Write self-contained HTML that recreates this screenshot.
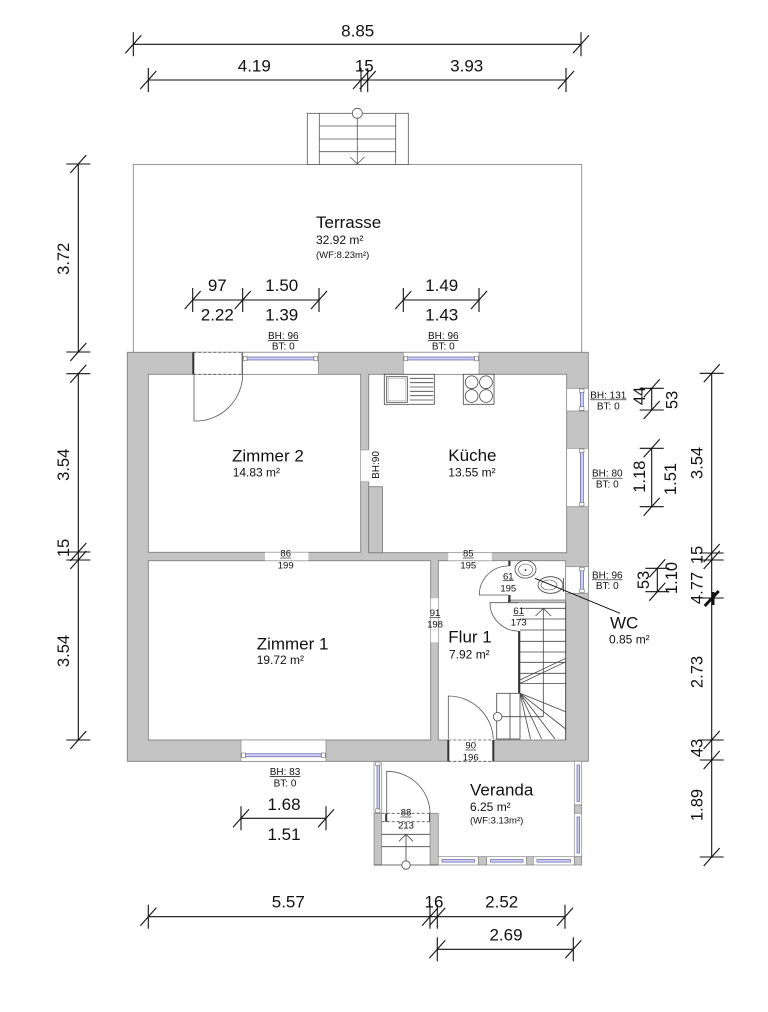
<!DOCTYPE html>
<html><head><meta charset="utf-8"><style>
html,body{margin:0;padding:0;background:#fff;}
svg{display:block;}
text{font-family:"Liberation Sans",Arial,sans-serif;fill:#111;}
</style></head><body>
<svg width="768" height="1012" viewBox="0 0 768 1012" xmlns="http://www.w3.org/2000/svg">
<rect x="0" y="0" width="768" height="1012" fill="#fff"/>

<!-- Terrace -->
<rect x="133.3" y="164.5" width="448.4" height="188" fill="#fff" stroke="#8a8a8a" stroke-width="0.9"/>
<!-- Terrace stair -->
<g stroke="#555" stroke-width="0.8" fill="none">
<rect x="307.3" y="113.3" width="101" height="51.2" fill="#fff"/>
<line x1="319.3" y1="113.3" x2="319.3" y2="164.5"/>
<line x1="395.7" y1="113.3" x2="395.7" y2="164.5"/>
<line x1="319.3" y1="126" x2="395.7" y2="126"/>
<line x1="319.3" y1="139" x2="395.7" y2="139"/>
<line x1="319.3" y1="151.7" x2="395.7" y2="151.7"/>
<line x1="357.3" y1="118.3" x2="357.3" y2="164"/>
<path d="M350.3,157 L357.3,164 L364.3,157"/>
<circle cx="357.3" cy="113.3" r="5" fill="#fff"/>
</g>

<!-- Main wall block -->
<rect x="127.3" y="352.3" width="461" height="409" fill="#c4c4c4" stroke="#808080" stroke-width="0.9"/>
<!-- Rooms -->
<g fill="#fff" stroke="#808080" stroke-width="0.9">
<rect x="148.3" y="374.3" width="212.4" height="178"/>
<rect x="368.7" y="374.3" width="198" height="178.4"/>
<rect x="148.3" y="560.7" width="282.4" height="179.3"/>
<rect x="438.3" y="560.7" width="127.4" height="179.3"/>
</g>
<rect x="368.7" y="486.7" width="13.8" height="66" fill="#c4c4c4" stroke="#808080" stroke-width="0.9"/>

<!-- Openings -->
<g fill="#fff" stroke="none">
<rect x="193.3" y="352.3" width="49.4" height="22"/>
<rect x="360.2" y="450" width="9" height="31.7"/>
<rect x="265" y="552" width="43.3" height="9"/>
<rect x="448.3" y="552.4" width="43.4" height="8.6"/>
<rect x="430.2" y="598.3" width="8.6" height="44"/>
<rect x="448.3" y="739.6" width="45" height="22"/>
</g>
<g stroke="#999" stroke-width="0.7">
<line x1="265" y1="552.3" x2="308.3" y2="552.3"/><line x1="265" y1="560.7" x2="308.3" y2="560.7"/>
<line x1="448.3" y1="552.7" x2="491.7" y2="552.7"/><line x1="448.3" y1="560.7" x2="491.7" y2="560.7"/>
<line x1="430.7" y1="598.3" x2="430.7" y2="642.3"/><line x1="438.3" y1="598.3" x2="438.3" y2="642.3"/>
<line x1="360.7" y1="450" x2="360.7" y2="481.7"/>
<line x1="360.7" y1="450" x2="368.7" y2="450"/><line x1="360.7" y1="481.7" x2="368.7" y2="481.7"/>
</g>
<!-- dashed doors -->
<g stroke="#555" stroke-width="0.8" stroke-dasharray="3,2">
<line x1="193.3" y1="352.3" x2="242.7" y2="352.3"/><line x1="193.3" y1="374.3" x2="242.7" y2="374.3"/>
<line x1="448.3" y1="740" x2="493.3" y2="740"/><line x1="448.3" y1="761.3" x2="493.3" y2="761.3"/>
<line x1="381.7" y1="813.3" x2="430" y2="813.3"/><line x1="381.7" y1="821.7" x2="430" y2="821.7"/>
</g>
<g stroke="#333" stroke-width="2">
<line x1="193.3" y1="352.3" x2="193.3" y2="374.3"/><line x1="242.7" y1="352.3" x2="242.7" y2="374.3"/>
<line x1="448.3" y1="740" x2="448.3" y2="761.3"/><line x1="493.3" y1="740" x2="493.3" y2="761.3"/>
<line x1="386.2" y1="813.3" x2="386.2" y2="821.7"/><line x1="430" y1="813.3" x2="430" y2="821.7"/>
</g>

<!-- Windows (horizontal) -->
<g>
<rect x="242.7" y="352.3" width="75.6" height="22" fill="#fff" stroke="#888" stroke-width="0.7"/>
<rect x="246.5" y="357" width="68" height="3" fill="#cfd0f2" stroke="#4a4aa0" stroke-width="0.6"/>
<rect x="243.5" y="356.3" width="3.5" height="4.5" fill="#fff" stroke="#555" stroke-width="0.5"/>
<rect x="314" y="356.3" width="3.5" height="4.5" fill="#fff" stroke="#555" stroke-width="0.5"/>

<rect x="403.3" y="352.3" width="75.7" height="22" fill="#fff" stroke="#888" stroke-width="0.7"/>
<rect x="407" y="357" width="68" height="3" fill="#cfd0f2" stroke="#4a4aa0" stroke-width="0.6"/>
<rect x="404" y="356.3" width="3.5" height="4.5" fill="#fff" stroke="#555" stroke-width="0.5"/>
<rect x="474.7" y="356.3" width="3.5" height="4.5" fill="#fff" stroke="#555" stroke-width="0.5"/>

<rect x="241" y="740" width="85" height="21.3" fill="#fff" stroke="#888" stroke-width="0.7"/>
<rect x="245" y="753.8" width="77" height="3" fill="#cfd0f2" stroke="#4a4aa0" stroke-width="0.6"/>
<rect x="241.8" y="753" width="3.5" height="4.5" fill="#fff" stroke="#555" stroke-width="0.5"/>
<rect x="321.7" y="753" width="3.5" height="4.5" fill="#fff" stroke="#555" stroke-width="0.5"/>
</g>
<!-- Windows (vertical, right wall) -->
<g>
<rect x="566.7" y="388.3" width="21.6" height="22.7" fill="#fff" stroke="#888" stroke-width="0.7"/>
<rect x="580.3" y="392" width="3" height="15.5" fill="#cfd0f2" stroke="#4a4aa0" stroke-width="0.6"/>
<rect x="579.5" y="389" width="4.5" height="3.5" fill="#fff" stroke="#555" stroke-width="0.5"/>
<rect x="579.5" y="406.8" width="4.5" height="3.5" fill="#fff" stroke="#555" stroke-width="0.5"/>

<rect x="566.7" y="448.3" width="21.6" height="58.4" fill="#fff" stroke="#888" stroke-width="0.7"/>
<rect x="580.3" y="452" width="3" height="51" fill="#cfd0f2" stroke="#4a4aa0" stroke-width="0.6"/>
<rect x="579.5" y="449" width="4.5" height="3.5" fill="#fff" stroke="#555" stroke-width="0.5"/>
<rect x="579.5" y="502.5" width="4.5" height="3.5" fill="#fff" stroke="#555" stroke-width="0.5"/>

<rect x="565.7" y="566.7" width="22.6" height="26.6" fill="#fff" stroke="#888" stroke-width="0.7"/>
<rect x="580.5" y="570.3" width="3" height="19.5" fill="#cfd0f2" stroke="#4a4aa0" stroke-width="0.6"/>
<rect x="579.7" y="567.3" width="4.5" height="3.5" fill="#fff" stroke="#555" stroke-width="0.5"/>
<rect x="579.7" y="589.2" width="4.5" height="3.5" fill="#fff" stroke="#555" stroke-width="0.5"/>
</g>

<!-- Kitchen fixtures -->
<g stroke="#444" stroke-width="0.8" fill="#fff">
<rect x="384.3" y="374.3" width="50" height="30"/>
<rect x="386.7" y="376.7" width="20.6" height="25.6"/>
<rect x="388.2" y="378.2" width="17.6" height="22.6" fill="none" stroke="#999" stroke-width="0.5"/>
<rect x="463.3" y="374.3" width="30.7" height="30"/>
<circle cx="471.6" cy="382.3" r="6.4"/><circle cx="486" cy="382.3" r="6.4"/>
<circle cx="471.6" cy="396" r="6.4"/><circle cx="486" cy="396" r="6.4"/>
</g>
<g stroke="#444" stroke-width="0.8">
<line x1="410" y1="378.3" x2="433.3" y2="378.3"/><line x1="410" y1="382.7" x2="433.3" y2="382.7"/>
<line x1="410" y1="387" x2="433.3" y2="387"/><line x1="410" y1="391.3" x2="433.3" y2="391.3"/>
<line x1="410" y1="395.7" x2="433.3" y2="395.7"/><line x1="410" y1="400" x2="433.3" y2="400"/>
</g>

<!-- WC walls -->
<rect x="508.3" y="600" width="57.4" height="2.8" fill="#c4c4c4" stroke="#666" stroke-width="0.6"/>
<g stroke="#333" stroke-width="2.2">
<line x1="509.4" y1="560.7" x2="509.4" y2="566"/>
<line x1="509.4" y1="595" x2="509.4" y2="602"/>
<line x1="519.2" y1="631" x2="519.2" y2="693.3"/>
</g>
<!-- WC fixtures -->
<g stroke="#444" stroke-width="0.8" fill="#fff">
<ellipse cx="525.5" cy="569.3" rx="10.5" ry="8.8"/>
<ellipse cx="525.5" cy="569.8" rx="7" ry="5.8" stroke-width="0.6"/>
<ellipse cx="550.5" cy="585" rx="12.5" ry="8.3"/>
<ellipse cx="549" cy="585" rx="8" ry="5" stroke-width="0.6"/>
<line x1="563.5" y1="578" x2="563.5" y2="592"/>
</g>
<circle cx="525.5" cy="570" r="1" fill="#444"/>

<!-- Door arcs -->
<g stroke="#555" stroke-width="0.8" fill="none">
<path d="M194,374.3 L194,421 A47,47 0 0 0 242.7,374.3"/>
<path d="M508.3,595 L479.3,595 A29,29 0 0 1 508.3,566"/>
<path d="M518.3,602.7 L490,602.7 A28.3,28.3 0 0 0 518.3,631"/>
<path d="M448.3,739 L448.3,696 A45,45 0 0 1 493.3,739"/>
<path d="M386.7,813.3 L386.7,771.3 A43.3,42 0 0 1 430,813.3"/>
</g>

<!-- Interior stair -->
<g stroke="#444" stroke-width="0.8" fill="none">
<line x1="565.7" y1="602.7" x2="565.7" y2="740"/>
<line x1="520" y1="608.3" x2="565.7" y2="608.3"/>
<line x1="520" y1="619" x2="565.7" y2="619"/>
<line x1="520" y1="630" x2="565.7" y2="630"/>
<line x1="520" y1="641.3" x2="565.7" y2="641.3"/>
<line x1="520" y1="652" x2="565.7" y2="652"/>
<line x1="520" y1="662.3" x2="565.7" y2="662.3"/>
<line x1="520" y1="673.3" x2="565.7" y2="673.3"/>
<line x1="520" y1="683.5" x2="565.7" y2="683.5"/>
<line x1="520" y1="680" x2="565.7" y2="658.3"/>
<line x1="520" y1="683.5" x2="565.7" y2="661.8"/>
<line x1="543.3" y1="608.3" x2="543.3" y2="716.7"/>
<path d="M535.5,616 L543.3,608.3 L551.1,616"/>
<rect x="496.7" y="693.3" width="23.3" height="45.7" fill="#fff"/>
<line x1="510" y1="693.3" x2="510" y2="739"/>
<line x1="501.7" y1="716.7" x2="543.3" y2="716.7"/>
<line x1="520" y1="693.3" x2="530.5" y2="739"/>
<line x1="520" y1="693.3" x2="541.7" y2="739"/>
<line x1="520" y1="693.3" x2="555" y2="739"/>
<line x1="520" y1="693.3" x2="565.7" y2="729"/>
<line x1="520" y1="693.3" x2="565.7" y2="711.7"/>
<circle cx="497.6" cy="716.7" r="4.3" fill="#fff"/>
</g>

<!-- Veranda -->
<g>
<rect x="374" y="761.3" width="7.7" height="52" fill="#fff" stroke="#888" stroke-width="0.7"/>
<rect x="377" y="765" width="2.6" height="44.5" fill="#cfd0f2" stroke="#4a4aa0" stroke-width="0.6"/>
<rect x="375.5" y="762" width="4.5" height="3.5" fill="#fff" stroke="#555" stroke-width="0.5"/>
<rect x="375.5" y="809" width="4.5" height="3.5" fill="#fff" stroke="#555" stroke-width="0.5"/>
<rect x="374" y="813.3" width="7.7" height="51.7" fill="#c4c4c4" stroke="#808080" stroke-width="0.7"/>
<rect x="430" y="813.3" width="8.3" height="51.7" fill="#c4c4c4" stroke="#808080" stroke-width="0.7"/>

<rect x="574.3" y="761.3" width="7.4" height="43.7" fill="#fff" stroke="#888" stroke-width="0.7"/>
<rect x="577" y="765" width="2.6" height="36.5" fill="#cfd0f2" stroke="#4a4aa0" stroke-width="0.6"/>
<rect x="574.3" y="805" width="7.4" height="8.3" fill="#c4c4c4" stroke="#808080" stroke-width="0.7"/>
<rect x="574.3" y="813.3" width="7.4" height="43.4" fill="#fff" stroke="#888" stroke-width="0.7"/>
<rect x="577" y="817" width="2.6" height="36" fill="#cfd0f2" stroke="#4a4aa0" stroke-width="0.6"/>
<rect x="574.3" y="856.7" width="7.4" height="8.3" fill="#c4c4c4" stroke="#808080" stroke-width="0.7"/>

<rect x="438.3" y="856.7" width="40" height="8.3" fill="#fff" stroke="#888" stroke-width="0.7"/>
<rect x="442" y="859.5" width="32.5" height="2.6" fill="#cfd0f2" stroke="#4a4aa0" stroke-width="0.6"/>
<rect x="478.3" y="856.7" width="8.4" height="8.3" fill="#c4c4c4" stroke="#808080" stroke-width="0.7"/>
<rect x="486.7" y="856.7" width="40" height="8.3" fill="#fff" stroke="#888" stroke-width="0.7"/>
<rect x="490.5" y="859.5" width="32.5" height="2.6" fill="#cfd0f2" stroke="#4a4aa0" stroke-width="0.6"/>
<rect x="526.7" y="856.7" width="6.6" height="8.3" fill="#c4c4c4" stroke="#808080" stroke-width="0.7"/>
<rect x="533.3" y="856.7" width="41" height="8.3" fill="#fff" stroke="#888" stroke-width="0.7"/>
<rect x="537" y="859.5" width="33.5" height="2.6" fill="#cfd0f2" stroke="#4a4aa0" stroke-width="0.6"/>
</g>
<g stroke="#444" stroke-width="0.8" fill="none">
<line x1="374" y1="865" x2="438.3" y2="865"/>
<line x1="381.7" y1="834.3" x2="430" y2="834.3"/>
<line x1="381.7" y1="846.7" x2="430" y2="846.7"/>
<line x1="406" y1="834.3" x2="406" y2="861"/>
<path d="M399,841.3 L406,834.3 L413,841.3"/>
<circle cx="406" cy="865" r="4.2" fill="#fff"/>
</g>

<!-- WC leader -->
<line x1="535" y1="578.3" x2="620" y2="613.3" stroke="#111" stroke-width="1"/>

<!-- Dimension lines -->
<g stroke="#111" stroke-width="1.1" fill="none">
<line x1="133.3" y1="44.3" x2="581" y2="44.3"/>
<path d="M133.3,32.3V56.3M125.3,53.3L141.3,35.3 M581,32.3V56.3M573,53.3L589,35.3"/>
<line x1="148.3" y1="80" x2="566" y2="80"/>
<path d="M148.3,68V92M140.3,89L156.3,71 M361,68V92M353,89L369,71 M367.7,68V92M359.7,89L375.7,71 M566,68V92M558,89L574,71"/>
<line x1="192.7" y1="300" x2="319" y2="300"/>
<path d="M192.7,288V312M184.7,309L200.7,291 M242.7,288V312M234.7,309L250.7,291 M319,288V312M311,309L327,291"/>
<line x1="403.3" y1="300" x2="479" y2="300"/>
<path d="M403.3,288V312M395.3,309L411.3,291 M479,288V312M471,309L487,291"/>
<line x1="241" y1="818.3" x2="326" y2="818.3"/>
<path d="M241,806.3V830.3M233,827.3L249,809.3 M326,806.3V830.3M318,827.3L334,809.3"/>
<line x1="148.3" y1="916.7" x2="565" y2="916.7"/>
<path d="M148.3,904.7V928.7M140.3,925.7L156.3,907.7 M430,904.7V928.7M422,925.7L438,907.7 M437.3,904.7V928.7M429.3,925.7L445.3,907.7 M565,904.7V928.7M557,925.7L573,907.7"/>
<line x1="437.3" y1="949.3" x2="573.3" y2="949.3"/>
<path d="M437.3,937.3V961.3M429.3,958.3L445.3,940.3 M573.3,937.3V961.3M565.3,958.3L581.3,940.3"/>

<line x1="78.3" y1="164" x2="78.3" y2="352"/>
<path d="M66.3,164H90.3M70.3,173L86.3,155 M66.3,352H90.3M70.3,361L86.3,343"/>
<line x1="78.3" y1="373.7" x2="78.3" y2="740"/>
<path d="M66.3,373.7H90.3M70.3,382.7L86.3,364.7 M66.3,552H90.3M70.3,561L86.3,543 M66.3,560H90.3M70.3,569L86.3,551 M66.3,740H90.3M70.3,749L86.3,731"/>

<line x1="711.7" y1="373.3" x2="711.7" y2="857"/>
<path d="M699.7,373.3H723.7M703.7,382.3L719.7,364.3 M699.7,553H723.7M703.7,562L719.7,544 M699.7,560H723.7M703.7,569L719.7,551 M699.7,740H723.7M703.7,749L719.7,731 M699.7,760H723.7M703.7,769L719.7,751 M699.7,857H723.7M703.7,866L719.7,848"/>
<path d="M704.7,606L718.7,591 M713,592V605" stroke-width="3"/>
<path d="M699.7,598H723.7"/>

<line x1="651.7" y1="388.3" x2="651.7" y2="410"/>
<path d="M639.7,388.3H663.7M643.7,397.3L659.7,379.3 M639.7,410H663.7M643.7,419L659.7,401"/>
<line x1="651.7" y1="448.3" x2="651.7" y2="506.7"/>
<path d="M639.7,448.3H663.7M643.7,457.3L659.7,439.3 M639.7,506.7H663.7M643.7,515.7L659.7,497.7"/>
<line x1="657.3" y1="568.3" x2="657.3" y2="591.7"/>
<path d="M645.3,568.3H669.3M649.3,577.3L665.3,559.3 M645.3,591.7H669.3M649.3,600.7L665.3,582.7"/>
</g>

<!-- Dimension labels -->
<g font-size="17" text-anchor="middle">
<text x="357.7" y="36.7">8.85</text>
<text x="254.3" y="71.7">4.19</text>
<text x="364.3" y="71.7">15</text>
<text x="466.7" y="71.7">3.93</text>
<text x="217.3" y="291">97</text>
<text x="281.7" y="291">1.50</text>
<text x="217.3" y="320.7">2.22</text>
<text x="281.7" y="320.7">1.39</text>
<text x="441.7" y="291">1.49</text>
<text x="441.7" y="320.7">1.43</text>
<text x="284" y="810">1.68</text>
<text x="284" y="840">1.51</text>
<text x="288.3" y="907.7">5.57</text>
<text x="434" y="907.7">16</text>
<text x="501.7" y="907.7">2.52</text>
<text x="506" y="940.7">2.69</text>
</g>
<g font-size="16.5" text-anchor="middle" dominant-baseline="central">
<text transform="translate(64,258.8) rotate(-90)">3.72</text>
<text transform="translate(64,464.8) rotate(-90)">3.54</text>
<text transform="translate(64,548) rotate(-90)">15</text>
<text transform="translate(64,651) rotate(-90)">3.54</text>
<text transform="translate(697.5,463) rotate(-90)">3.54</text>
<text transform="translate(697.5,555) rotate(-90)">15</text>
<text transform="translate(697.5,588) rotate(-90)">4.77</text>
<text transform="translate(697.5,672) rotate(-90)">2.73</text>
<text transform="translate(697.5,748) rotate(-90)">43</text>
<text transform="translate(697.5,805) rotate(-90)">1.89</text>
<text transform="translate(640,396) rotate(-90)">44</text>
<text transform="translate(672.5,400) rotate(-90)">53</text>
<text transform="translate(640,476.7) rotate(-90)">1.18</text>
<text transform="translate(671,479) rotate(-90)">1.51</text>
<text transform="translate(644,580) rotate(-90)">53</text>
<text transform="translate(672,578) rotate(-90)">1.10</text>
</g>

<!-- Room labels -->
<g font-size="17">
<text x="316" y="228">Terrasse</text>
<text x="232" y="461.7">Zimmer 2</text>
<text x="448.3" y="461">Küche</text>
<text x="256.7" y="649.3">Zimmer 1</text>
<text x="448.3" y="642.7">Flur 1</text>
<text x="610" y="628.3">WC</text>
<text x="470" y="795.7">Veranda</text>
</g>
<g font-size="12">
<text x="316" y="244">32.92 m²</text>
<text x="232.7" y="476.7">14.83 m²</text>
<text x="448.3" y="476.3">13.55 m²</text>
<text x="256.7" y="664">19.72 m²</text>
<text x="449" y="658.3">7.92 m²</text>
<text x="609" y="643.3">0.85 m²</text>
<text x="470" y="811">6.25 m²</text>
</g>
<g font-size="9.5">
<text x="316" y="258">(WF:8.23m²)</text>
<text x="470" y="823.5">(WF:3.13m²)</text>
</g>

<!-- BH labels -->
<g font-size="10" text-anchor="middle">
<text x="283.3" y="339">BH: 96</text><text x="283.3" y="349.3">BT: 0</text>
<text x="443.3" y="339">BH: 96</text><text x="443.3" y="349.3">BT: 0</text>
<text x="608.3" y="398.3">BH: 131</text><text x="608.3" y="409.3">BT: 0</text>
<text x="607.3" y="476.7">BH: 80</text><text x="607.3" y="487.3">BT: 0</text>
<text x="607.3" y="578.3">BH: 96</text><text x="607.3" y="589">BT: 0</text>
<text x="285" y="775">BH: 83</text><text x="285" y="786.7">BT: 0</text>
</g>
<g stroke="#111" stroke-width="0.7">
<line x1="268" y1="340.5" x2="298.6" y2="340.5"/>
<line x1="428" y1="340.5" x2="458.6" y2="340.5"/>
<line x1="590" y1="399.8" x2="626.6" y2="399.8"/>
<line x1="592" y1="478.2" x2="622.6" y2="478.2"/>
<line x1="592" y1="579.8" x2="622.6" y2="579.8"/>
<line x1="269.7" y1="776.5" x2="300.3" y2="776.5"/>
</g>
<text transform="translate(376.5,465) rotate(-90)" font-size="10" text-anchor="middle" dominant-baseline="central">BH:90</text>

<!-- Door labels -->
<g font-size="9.5" text-anchor="middle">
<text x="285.7" y="556.7">86</text><text x="285.7" y="568.3">199</text>
<text x="468.3" y="556.7">85</text><text x="468.3" y="568.3">195</text>
<text x="435" y="616">91</text><text x="435" y="627.7">198</text>
<text x="508.3" y="579.3">61</text><text x="508.3" y="591.7">195</text>
<text x="518.7" y="614">61</text><text x="518.7" y="625.7">173</text>
<text x="470.7" y="748.7">90</text><text x="470.7" y="760.7">196</text>
<text x="406" y="815.7">88</text><text x="406" y="828.3">213</text>
</g>
<g stroke="#111" stroke-width="0.6">
<line x1="280.2" y1="558" x2="291.2" y2="558"/>
<line x1="462.8" y1="558" x2="473.8" y2="558"/>
<line x1="429.5" y1="617.3" x2="440.5" y2="617.3"/>
<line x1="502.8" y1="580.6" x2="513.8" y2="580.6"/>
<line x1="513.2" y1="615.3" x2="524.2" y2="615.3"/>
<line x1="465.2" y1="750" x2="476.2" y2="750"/>
<line x1="400.5" y1="817" x2="411.5" y2="817"/>
</g>
</svg>
</body></html>
